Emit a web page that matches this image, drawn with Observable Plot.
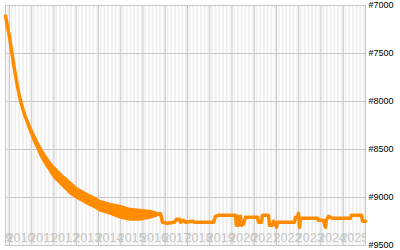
<!DOCTYPE html>
<html><head><meta charset="utf-8">
<script src="https://cdn.jsdelivr.net/npm/d3@7"></script>
<script src="https://cdn.jsdelivr.net/npm/@observablehq/plot@0.6"></script>
<style>body{margin:0;background:#fff}</style>
</head><body><div id="chart"></div>
<script>
// Rank over time (lower number = higher on chart)
const lineDates = ["2009-10-27","2009-11-28","2010-01-01","2010-02-03","2010-03-07","2010-04-09","2010-05-11","2010-06-13","2010-07-16","2010-09-03","2010-10-22","2010-12-10","2011-01-29","2011-03-18","2011-05-23","2011-07-28","2011-10-02","2011-12-23","2012-03-15","2012-06-05","2012-09-28","2013-02-06","2013-07-04","2013-11-13","2014-02-02","2014-07-16","2014-12-27","2015-06-09","2015-11-20","2016-05-03","2016-08-26","2016-10-15","2016-11-17","2017-02-07","2017-06-02","2017-07-04","2017-08-22","2017-09-08","2017-10-27","2017-11-29","2018-03-24","2018-04-26","2019-03-03","2019-04-05","2019-05-24","2020-02-27","2020-03-14","2020-03-31","2020-04-16","2020-05-19","2020-06-05","2020-07-08","2020-08-10","2021-02-23","2021-03-11","2021-04-30","2021-05-16","2021-08-22","2021-09-08","2021-10-27","2021-11-13","2021-12-15","2022-01-01","2022-01-17","2022-08-18","2022-10-23","2022-11-08","2022-12-11","2022-12-27","2023-01-13","2023-01-29","2023-11-04","2023-11-20","2024-02-10","2024-03-14","2024-03-30","2024-05-02","2024-07-07","2025-04-28","2025-05-15","2025-10-27","2025-11-13","2025-12-31"];
const lineRanks = [7110,7216,7330,7466,7601,7726,7841,7945,8028,8133,8216,8289,8362,8435,8518,8591,8654,8727,8779,8831,8904,8966,9018,9050,9091,9122,9154,9175,9185,9180,9175,9169,9258,9268,9258,9227,9227,9258,9237,9258,9247,9258,9258,9196,9185,9185,9289,9196,9289,9196,9289,9279,9206,9206,9258,9258,9185,9185,9289,9289,9247,9268,9310,9258,9258,9258,9206,9206,9164,9310,9216,9216,9237,9237,9310,9237,9196,9216,9216,9185,9185,9247,9247];

// Daily-noise envelope of the rank (top / bottom of the band)
const bandDates = ["2010-10-22","2010-12-10","2011-01-29","2011-03-18","2011-05-23","2011-07-28","2011-10-02","2011-12-23","2012-03-15","2012-06-05","2012-09-28","2013-02-06","2013-07-04","2013-11-13","2014-02-02","2014-07-16","2014-12-27","2015-06-09","2015-11-20","2016-05-03","2016-08-26","2016-10-15"];
const bandTop =    [8174,8247,8310,8372,8455,8529,8591,8664,8716,8768,8831,8904,8956,8998,9029,9060,9081,9112,9122,9133,9154,9164];
const bandBottom = [8258,8341,8424,8487,8581,8654,8716,8800,8852,8904,8977,9029,9081,9122,9154,9185,9227,9247,9247,9227,9206,9175];

const yearLabels = ["2009","2010","2011","2012","2013","2014","2015","2016","2017","2018","2019","2020","2021","2022","2023","2024","2025"];
const rankTicks = [7000,7500,8000,8500,9000,9500];

const series = lineDates.map((d,i)=>({date:new Date(d), rank:lineRanks[i]}));
const band = bandDates.map((d,i)=>({date:new Date(d), top:bandTop[i], bottom:bandBottom[i]}));
const xDomain = [new Date("2009-10-27"), new Date("2026-01-01")];
const months = d3.utcMonth.range(d3.utcMonth.floor(xDomain[0]), xDomain[1]).filter(m=>m.getUTCMonth()%2===1);
const yearStarts = yearLabels.slice(1).map(y=>new Date(Date.UTC(+y,0,1)));

const chart = Plot.plot({
  width:400, height:250,
  marginLeft:5, marginRight:35, marginTop:5, marginBottom:5,
  x:{type:"utc", domain:xDomain, axis:null},
  y:{domain:[9500,7000], axis:"right", ticks:rankTicks, tickFormat:d=>"#"+d, tickSize:0, tickPadding:3, label:null},
  style:{fontSize:"9px", fontFamily:"Liberation Sans, Arial, sans-serif", color:"#000", background:"#fff"},
  marks:[
    Plot.rect(months,{x1:d=>d, x2:d=>d3.utcMonth.offset(d,1), y1:9500, y2:7000, fill:"#efefef", clip:true}),
    Plot.ruleX(yearStarts,{stroke:"#c8c8c8", strokeWidth:1}),
    Plot.ruleY(rankTicks,{stroke:"#c8c8c8", strokeWidth:1}),
    Plot.frame({stroke:"#c8c8c8"}),
    Plot.text(yearLabels,{x:d=>new Date(Date.UTC(+d,6,1)), y:9500, text:d=>d, dy:-4, lineAnchor:"bottom", fill:"#c4c4c4", fontSize:12.5, clip:true}),
    Plot.areaY(band,{x:"date", y1:"top", y2:"bottom", fill:"#ff8c00"}),
    Plot.line(series,{x:"date", y:"rank", stroke:"#ff8c00", strokeWidth:3.5})
  ]
});
document.getElementById("chart").appendChild(chart);
</script>
</body></html>
